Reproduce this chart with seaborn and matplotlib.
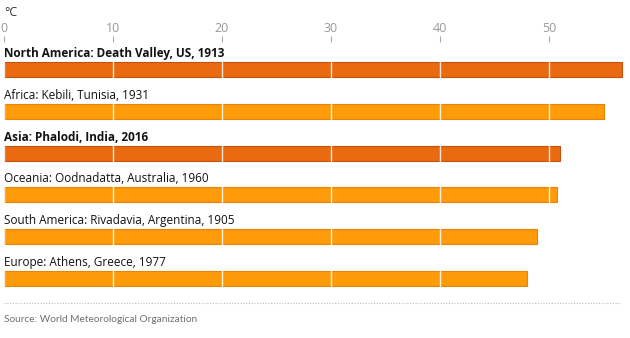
import matplotlib
matplotlib.use("Agg")
import matplotlib.pyplot as plt
import seaborn as sns
from matplotlib.lines import Line2D

labels = [
    "North America: Death Valley, US, 1913",
    "Africa: Kebili, Tunisia, 1931",
    "Asia: Phalodi, India, 2016",
    "Oceania: Oodnadatta, Australia, 1960",
    "South America: Rivadavia, Argentina, 1905",
    "Europe: Athens, Greece, 1977",
]
values = [56.7, 55.0, 51.0, 50.7, 48.9, 48.0]
highlight = [True, False, True, False, False, False]
ticks = [0, 10, 20, 30, 40, 50]

DARK = "#ea6a12"
LIGHT = "#fe9b0b"
DARK_EDGE = "#c4530c"
LIGHT_EDGE = "#e38700"

sns.set_theme(style="white")
plt.rcParams["font.family"] = ["Open Sans", "DejaVu Sans"]

W, H = 630, 338
fig = plt.figure(figsize=(W / 100, H / 100), dpi=100)

# axes geometry in pixels
step = 41.8
left_px, right_px = 4, 4 + 10.9 * 57
top_px = 42
extra = (69.5 - step / 2 - top_px) / step
bot_px = top_px + step * (6 + extra)
ax = fig.add_axes([left_px / W, 1 - bot_px / H, (right_px - left_px) / W, (bot_px - top_px) / H])

colors = [DARK if h else LIGHT for h in highlight]
sns.barplot(x=values, y=labels, hue=labels, palette=colors, orient="h",
            width=0.36, legend=False, ax=ax, saturation=1)
for p, h in zip(ax.patches, highlight):
    p.set_edgecolor(DARK_EDGE if h else LIGHT_EDGE)
    p.set_linewidth(0.8)

ax.set_xlim(0, 57)
ax.set_ylim(5.5, -0.5 - extra)
ax.set_yticks([])
ax.set_ylabel("")
ax.set_xlabel("")
ax.xaxis.tick_top()
ax.set_xticks(ticks)
ax.set_xticklabels([str(t) for t in ticks])
ax.tick_params(axis="x", colors="#aaaaaa", labelcolor="#999999", labelsize=9,
               length=4, width=0.8, pad=1, direction="out", top=True, bottom=False)
for s in ax.spines.values():
    s.set_visible(False)
ax.set_axisbelow(False)
ax.grid(axis="x", color="white", linewidth=1.0, alpha=0.85)
ax.grid(axis="y", visible=False)

for i, (lab, h) in enumerate(zip(labels, highlight)):
    ax.text(0, i - 0.30, lab, ha="left", va="baseline", fontsize=8.5,
            fontweight="bold" if h else "normal", color="#121212", zorder=4)

fig.text(4 / W, 1 - 12 / H, "°C", ha="left", va="center", fontsize=9, color="#333333")
fig.add_artist(Line2D([4 / W, 621 / W], [1 - 303 / H, 1 - 303 / H],
                      transform=fig.transFigure, color="#bbbbbb", linewidth=0.8,
                      linestyle=(0, (1, 1.5))))
fig.text(4 / W, 1 - 320 / H, "Source: World Meteorological Organization", ha="left",
         va="center", fontsize=7.3, color="#707070", family=["Lato", "DejaVu Sans"])

fig.savefig("out.png", dpi=100)
